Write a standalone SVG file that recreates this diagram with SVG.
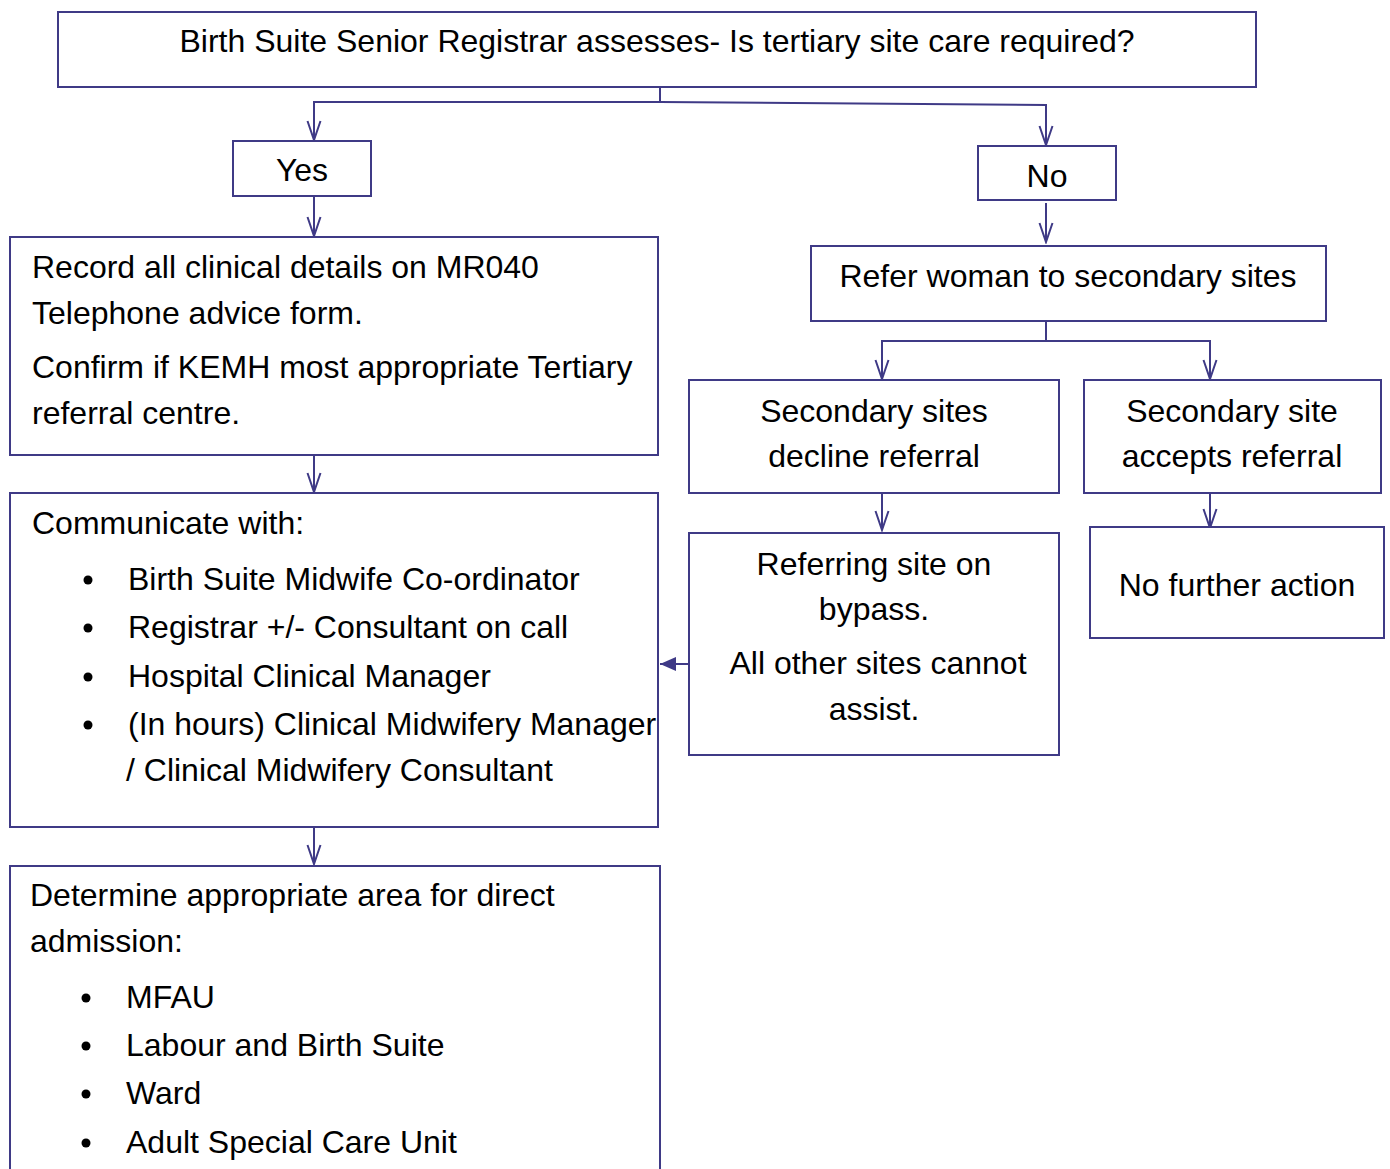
<svg xmlns="http://www.w3.org/2000/svg" width="1390" height="1169" viewBox="0 0 1390 1169">
<defs>
<style>
.box{fill:#fff;stroke:#3f3a86;stroke-width:2}
.ln{fill:none;stroke:#3f3a86;stroke-width:2}
text{font-family:"Liberation Sans",Arial,sans-serif;font-size:32px;fill:#000}
.c{text-anchor:middle}
</style>
<marker id="openv" viewBox="-22 -10 24 20" markerWidth="24" markerHeight="20" refX="0" refY="0" orient="auto" markerUnits="userSpaceOnUse">
<path d="M-19,-6.5 L0,0 L-19,6.5" fill="none" stroke="#3f3a86" stroke-width="2"/>
</marker>
<marker id="solid" viewBox="-20 -10 22 20" markerWidth="22" markerHeight="20" refX="0" refY="0" orient="auto" markerUnits="userSpaceOnUse">
<path d="M-16,-7 L0,0 L-16,7 Z" fill="#3f3a86"/>
</marker>
</defs>
<rect width="1390" height="1169" fill="#fff"/>
<g id="connectors">
<polyline class="ln" points="660,87 660,102"/>
<polyline class="ln" points="660,102 314,102 314,140" marker-end="url(#openv)"/>
<polyline class="ln" points="660,102 1046,105 1046,145" marker-end="url(#openv)"/>
<line class="ln" x1="314" y1="196" x2="314" y2="236" marker-end="url(#openv)"/>
<line class="ln" x1="1046" y1="203" x2="1046" y2="242" marker-end="url(#openv)"/>
<line class="ln" x1="314" y1="455" x2="314" y2="492" marker-end="url(#openv)"/>
<line class="ln" x1="314" y1="827" x2="314" y2="864" marker-end="url(#openv)"/>
<polyline class="ln" points="1046,321 1046,341"/>
<polyline class="ln" points="1046,341 882,341 882,379" marker-end="url(#openv)"/>
<polyline class="ln" points="1046,341 1210,341 1210,379" marker-end="url(#openv)"/>
<line class="ln" x1="882" y1="493" x2="882" y2="530" marker-end="url(#openv)"/>
<line class="ln" x1="1210" y1="493" x2="1210" y2="528" marker-end="url(#openv)"/>
<line class="ln" x1="689" y1="664" x2="660" y2="664" marker-end="url(#solid)"/>
</g>
<g id="n-top"><rect class="box" x="58" y="12" width="1198" height="75"/>
<text class="c" x="657" y="52">Birth Suite Senior Registrar assesses- Is tertiary site care required?</text></g>
<g id="n-yes"><rect class="box" x="233" y="141" width="138" height="55"/>
<text class="c" x="302" y="181">Yes</text></g>
<g id="n-no"><rect class="box" x="978" y="146" width="138" height="54"/>
<text class="c" x="1047" y="187">No</text></g>
<g id="n-record"><rect class="box" x="10" y="237" width="648" height="218"/>
<text x="32" y="278">Record all clinical details on MR040</text>
<text x="32" y="324">Telephone advice form.</text>
<text x="32" y="378">Confirm if KEMH most appropriate Tertiary</text>
<text x="32" y="424">referral centre.</text></g>
<g id="n-communicate"><rect class="box" x="10" y="493" width="648" height="334"/>
<text x="32" y="534">Communicate with:</text>
<circle cx="88" cy="580" r="4.5"/><text x="128" y="590">Birth Suite Midwife Co-ordinator</text>
<circle cx="88" cy="628" r="4.5"/><text x="128" y="638">Registrar +/- Consultant on call</text>
<circle cx="88" cy="677" r="4.5"/><text x="128" y="687">Hospital Clinical Manager</text>
<circle cx="88" cy="725" r="4.5"/><text x="128" y="735">(In hours) Clinical Midwifery Manager</text>
<text x="126" y="781">/ Clinical Midwifery Consultant</text></g>
<g id="n-determine"><rect class="box" x="10" y="866" width="650" height="320"/>
<text x="30" y="906">Determine appropriate area for direct</text>
<text x="30" y="952">admission:</text>
<circle cx="86" cy="998" r="4.5"/><text x="126" y="1008">MFAU</text>
<circle cx="86" cy="1046" r="4.5"/><text x="126" y="1056">Labour and Birth Suite</text>
<circle cx="86" cy="1094" r="4.5"/><text x="126" y="1104">Ward</text>
<circle cx="86" cy="1143" r="4.5"/><text x="126" y="1153">Adult Special Care Unit</text></g>
<g id="n-refer"><rect class="box" x="811" y="246" width="515" height="75"/>
<text class="c" x="1068" y="287">Refer woman to secondary sites</text></g>
<g id="n-decline"><rect class="box" x="689" y="380" width="370" height="113"/>
<text class="c" x="874" y="422">Secondary sites</text>
<text class="c" x="874" y="467">decline referral</text></g>
<g id="n-accepts"><rect class="box" x="1084" y="380" width="297" height="113"/>
<text class="c" x="1232" y="422">Secondary site</text>
<text class="c" x="1232" y="467">accepts referral</text></g>
<g id="n-referring"><rect class="box" x="689" y="533" width="370" height="222"/>
<text class="c" x="874" y="575">Referring site on</text>
<text class="c" x="874" y="620">bypass.</text>
<text class="c" x="878" y="674">All other sites cannot</text>
<text class="c" x="874" y="720">assist.</text></g>
<g id="n-nofurther"><rect class="box" x="1090" y="527" width="294" height="111"/>
<text class="c" x="1237" y="596">No further action</text></g>
</svg>
